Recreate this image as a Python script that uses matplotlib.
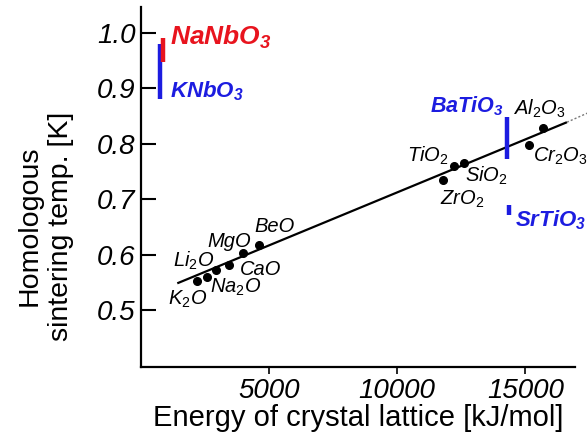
import matplotlib
matplotlib.use("Agg")
import matplotlib.pyplot as plt

plt.rcParams['font.family'] = ['Liberation Sans', 'DejaVu Sans']
plt.rcParams['mathtext.fontset'] = 'custom'
plt.rcParams['mathtext.rm'] = 'Liberation Sans'
plt.rcParams['mathtext.it'] = 'Liberation Sans:italic'
plt.rcParams['mathtext.bf'] = 'Liberation Sans:italic:bold'

# oxide points (lattice energy kJ/mol, homologous sintering temperature)
oxide_x = [2175, 2566, 2930, 3450, 3997, 4622, 11785, 12200, 12590, 15156, 15675]
oxide_y = [0.552, 0.559, 0.572, 0.581, 0.603, 0.618, 0.735, 0.759, 0.766, 0.798, 0.829]

# trend line
fit_x = [1420, 16625]
fit_y = [0.548, 0.839]
ext_x = [16625, 17500]
ext_y = [0.839, 0.857]

# perovskite ranges: (x, y_low, y_high)
nanbo3 = (872, 0.948, 0.992)
knbo3 = (742, 0.881, 0.981)
batio3 = (14280, 0.773, 0.848)
srtio3 = (14375, 0.671, 0.689)

# label text and anchor (left, baseline)
oxide_labels = [
    ('K$_\\mathit{2}$O', 1050, 0.509),
    ('Li$_\\mathit{2}$O', 1250, 0.578),
    ('Na$_\\mathit{2}$O', 2700, 0.531),
    ('MgO', 2580, 0.614),
    ('CaO', 3870, 0.563),
    ('BeO', 4410, 0.641),
    ('TiO$_\\mathit{2}$', 10390, 0.767),
    ('SiO$_\\mathit{2}$', 12660, 0.731),
    ('ZrO$_\\mathit{2}$', 11680, 0.690),
    ('Al$_\\mathit{2}$O$_\\mathit{3}$', 14530, 0.852),
    ('Cr$_\\mathit{2}$O$_\\mathit{3}$', 15310, 0.767),
]
red = '#e8141e'
blue = '#1c1ce0'
perov_labels = [
    ('NaNbO$_\\mathbf{3}$', 1130, 0.978, red, 19),
    ('KNbO$_\\mathbf{3}$', 1130, 0.884, blue, 16),
    ('BaTiO$_\\mathbf{3}$', 11290, 0.857, blue, 15.5),
    ('SrTiO$_\\mathbf{3}$', 14610, 0.650, blue, 16),
]

xticks = [5000, 10000, 15000]
yticks = [0.5, 0.6, 0.7, 0.8, 0.9, 1.0]

fig = plt.figure(figsize=(5.87, 4.41), dpi=100)
ax = fig.add_axes([0.240, 0.168, 0.740, 0.816])

ax.plot(fit_x, fit_y, color='black', lw=1.6, solid_capstyle='butt')
ax.plot(ext_x, ext_y, color='#777777', lw=1.0, ls=(0, (1.5, 1.5)), clip_on=False)
ax.plot(oxide_x, oxide_y, 'o', color='black', ms=5.5, zorder=3)

for (x, lo, hi), c in [(knbo3, blue), (nanbo3, red), (batio3, blue), (srtio3, blue)]:
    ax.plot([x, x], [lo, hi], color=c, lw=3.2, solid_capstyle='butt', zorder=4)

for txt, x, y in oxide_labels:
    ax.text(x, y, txt, fontsize=14.5, style='italic', ha='left', va='baseline',
            clip_on=False)
for txt, x, y, c, fs in perov_labels:
    ax.text(x, y, txt, fontsize=fs, style='italic', weight='bold', color=c,
            ha='left', va='baseline', clip_on=False)

ax.set_xlim(0, 16950)
ax.set_ylim(0.397, 1.047)
ax.set_xticks(xticks)
ax.set_yticks(yticks)
ax.set_xticklabels([str(t) for t in xticks], fontsize=20, style='italic')
ax.set_yticklabels(['%.1f' % t for t in yticks], fontsize=20, style='italic')
ax.tick_params(axis='y', direction='in', length=11, width=1.5, pad=4)
ax.tick_params(axis='x', direction='out', length=5, width=1.2, pad=3)

for s in ['top', 'right']:
    ax.spines[s].set_visible(False)
for s in ['left', 'bottom']:
    ax.spines[s].set_linewidth(1.6)

ax.set_xlabel('Energy of crystal lattice [kJ/mol]', fontsize=21, labelpad=0)
fig.text(0.077, 0.487, 'Homologous\nsintering temp. [K]', fontsize=20.5,
         rotation=90, ha='center', va='center', multialignment='center',
         linespacing=1.25)

fig.savefig('out.png', dpi=100)
